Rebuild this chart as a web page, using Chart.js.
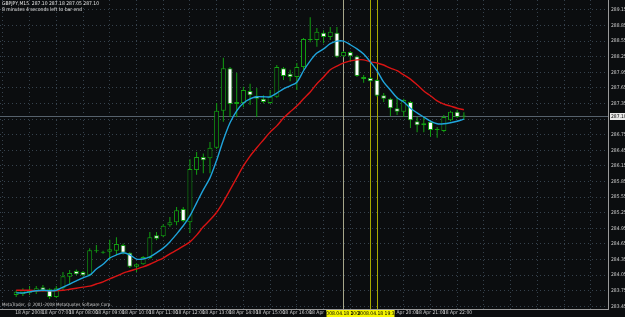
<!DOCTYPE html>
<html>
<head>
<meta charset="utf-8">
<script src="https://cdn.jsdelivr.net/npm/chart.js@4.4.1/dist/chart.umd.min.js"></script>
<style>
  html, body { margin: 0; padding: 0; background: #0b0d0f; }
  canvas { display: block; }
</style>
</head>
<body>
<canvas id="myChart" width="625" height="317"></canvas>
<script>
// GBPJPY, M15 - 18 Apr 2008, bars from 06:00 to 22:45
const hourLabels = ['18 Apr 2008', '18 Apr 07:00', '18 Apr 08:00', '18 Apr 09:00', '18 Apr 10:00',
  '18 Apr 11:00', '18 Apr 12:00', '18 Apr 13:00', '18 Apr 14:00', '18 Apr 15:00', '18 Apr 16:00',
  '18 Apr 17:00', '18 Apr 18:00', '18 Apr 19:00', '18 Apr 20:00', '18 Apr 21:00', '18 Apr 22:00'];

const opens = [283.67, 283.69, 283.75, 283.73, 283.82, 283.78, 283.63, 283.80, 284.02, 284.13,
  284.11, 284.05, 284.53, 284.50, 284.50, 284.52, 284.63, 284.48, 284.21, 284.26,
  284.38, 284.82, 284.80, 285.01, 285.07, 285.32, 285.07, 286.07, 286.32, 286.30,
  286.50, 287.21, 288.03, 287.38, 287.36, 287.59, 287.50, 287.44, 287.36, 287.48,
  288.03, 287.92, 287.86, 288.05, 288.57, 288.57, 288.71, 288.63, 288.71, 288.26,
  288.34, 288.26, 287.86, 287.84, 287.80, 287.51, 287.44, 287.26, 287.19, 287.38,
  287.01, 286.97, 287.00, 286.86, 286.82, 287.03, 287.19, 287.10];
const highs = [283.76, 283.80, 283.84, 283.84, 283.86, 283.80, 283.84, 284.11, 284.15, 284.16,
  284.13, 284.57, 284.63, 284.52, 284.73, 284.78, 284.66, 284.49, 284.28, 284.42,
  284.88, 284.88, 285.03, 285.17, 285.36, 285.36, 286.28, 286.42, 286.39, 286.61,
  287.36, 288.23, 288.05, 287.94, 287.67, 287.73, 287.65, 287.51, 287.61, 288.09,
  288.05, 288.00, 288.13, 288.61, 289.01, 288.80, 288.76, 288.82, 288.82, 288.36,
  288.36, 288.28, 287.90, 287.86, 287.82, 287.55, 287.46, 287.48, 287.44, 287.40,
  287.09, 287.09, 287.03, 286.90, 287.13, 287.21, 287.23, 287.18];
const lows = [283.63, 283.65, 283.67, 283.69, 283.73, 283.59, 283.61, 283.76, 283.86, 284.05,
  284.03, 284.03, 284.48, 284.46, 284.34, 284.44, 284.45, 284.19, 284.11, 284.25,
  284.36, 284.72, 284.78, 284.98, 285.01, 285.07, 284.86, 285.98, 286.01, 286.01,
  286.48, 287.00, 287.09, 287.09, 287.28, 287.32, 287.09, 287.35, 287.34, 287.46,
  287.80, 287.78, 287.61, 288.00, 288.53, 288.44, 288.51, 288.57, 288.23, 288.24,
  288.15, 287.86, 287.75, 287.76, 287.48, 287.38, 287.11, 287.13, 287.09, 286.88,
  286.80, 286.80, 286.71, 286.69, 286.80, 287.01, 287.07, 287.05];
const closes = [283.73, 283.76, 283.71, 283.80, 283.76, 283.63, 283.80, 284.03, 284.09, 284.07,
  284.05, 284.53, 284.51, 284.48, 284.55, 284.65, 284.48, 284.21, 284.26, 284.40,
  284.78, 284.75, 285.00, 285.07, 285.30, 285.09, 286.09, 286.32, 286.26, 286.50,
  287.21, 288.03, 287.34, 287.34, 287.61, 287.51, 287.44, 287.38, 287.48, 288.05,
  287.88, 287.86, 288.05, 288.59, 288.59, 288.73, 288.63, 288.73, 288.25, 288.34,
  288.26, 287.88, 287.82, 287.78, 287.50, 287.44, 287.26, 287.19, 287.42, 287.03,
  286.93, 286.93, 286.84, 286.84, 287.09, 287.19, 287.09, 287.10];

// moving averages (fast = blue, slow = red)
const maFast = [283.71, 283.71, 283.73, 283.75, 283.76, 283.75, 283.76, 283.82, 283.88, 283.94,
  284.00, 284.05, 284.17, 284.26, 284.38, 284.44, 284.48, 284.44, 284.36, 284.36,
  284.40, 284.48, 284.57, 284.69, 284.84, 285.00, 285.19, 285.44, 285.69, 285.92,
  286.26, 286.65, 286.98, 287.21, 287.36, 287.44, 287.48, 287.48, 287.48, 287.55,
  287.63, 287.69, 287.76, 287.98, 288.17, 288.32, 288.40, 288.50, 288.55, 288.55,
  288.48, 288.40, 288.30, 288.15, 287.98, 287.76, 287.61, 287.46, 287.38, 287.26,
  287.17, 287.09, 287.01, 286.96, 286.96, 286.98, 287.01, 287.05];
const maSlow = [283.76, 283.76, 283.76, 283.75, 283.75, 283.75, 283.75, 283.76, 283.78, 283.80,
  283.82, 283.84, 283.88, 283.92, 283.98, 284.03, 284.09, 284.13, 284.17, 284.21,
  284.26, 284.32, 284.38, 284.46, 284.53, 284.61, 284.69, 284.82, 284.98, 285.11,
  285.26, 285.46, 285.69, 285.92, 286.15, 286.34, 286.50, 286.65, 286.80, 286.92,
  287.07, 287.19, 287.30, 287.44, 287.57, 287.73, 287.86, 288.00, 288.07, 288.13,
  288.17, 288.19, 288.19, 288.15, 288.13, 288.09, 288.03, 287.98, 287.90, 287.82,
  287.71, 287.59, 287.50, 287.40, 287.34, 287.30, 287.26, 287.23];

const priceTicks = ['283.45', '283.75', '284.05', '284.35', '284.65', '284.95', '285.25', '285.55',
  '285.85', '286.15', '286.45', '286.75', '287.05', '287.35', '287.65', '287.95', '288.25',
  '288.55', '288.85', '289.15'];

// vertical lines (bar index) and their time labels
const markerBars = [49, 53, 54];
const markerLabels = ['2008.04.18 18:15', '2008.04.18 19:15', '2008.04.18 19:30'];
const markerColors = ['#a6a68a', '#a8a800', '#a8a800'];

const bid = 287.10;
const titleText = 'GBPJPY,M15  287.10 287.18 287.05 287.10';
const timerText = '8 minutes 4 seconds left to bar end';
const copyText = 'MetaTrader, \u00a9 2001-2008 MetaQuotes Software Corp.';

const FONT = "'Liberation Sans Narrow', 'DejaVu Sans Condensed', 'Liberation Sans', sans-serif";
const GREEN = '#12a012';

// build datasets
const wicks = lows.map((l, i) => ({ x: i, y: [l, highs[i]] }));
const bodies = opens.map((o, i) => ({ x: i, y: [o, closes[i]] }));
const bodyFill = opens.map((o, i) => closes[i] >= o ? '#0b0d0f' : '#ffffff');

const overlay = {
  id: 'overlay',
  beforeDatasetsDraw(chart) {
    const { ctx, chartArea: a, scales: { x, y } } = chart;
    ctx.save();
    ctx.lineWidth = 1;
    // bid line
    const yb = Math.floor(y.getPixelForValue(bid)) + 0.5;
    ctx.strokeStyle = '#56616c';
    ctx.beginPath();
    ctx.moveTo(a.left, yb);
    ctx.lineTo(a.right, yb);
    ctx.stroke();
    // vertical lines
    markerBars.forEach((b, k) => {
      const xp = Math.floor(x.getPixelForValue(b)) + 0.5;
      ctx.strokeStyle = markerColors[k];
      ctx.beginPath();
      ctx.moveTo(xp, a.top);
      ctx.lineTo(xp, a.bottom);
      ctx.stroke();
    });
    ctx.restore();
  },
  afterDraw(chart) {
    const { ctx, chartArea: a, scales: { x, y } } = chart;
    ctx.save();
    ctx.textBaseline = 'middle';
    ctx.textAlign = 'left';
    ctx.font = '5px ' + FONT;
    ctx.fillStyle = '#e6e6e6';
    ctx.fillText(titleText, 2, 4);
    ctx.fillText(timerText, 2, 10);
    ctx.font = '4.5px ' + FONT;
    ctx.fillStyle = '#c8c8c8';
    ctx.fillText(copyText, 2, a.bottom - 4);

    // bid label on the price scale
    const yb = Math.floor(y.getPixelForValue(bid)) + 0.5;
    ctx.fillStyle = '#e8e8e8';
    ctx.fillRect(a.right + 2, yb - 3.5, 15, 7);
    ctx.fillStyle = '#000000';
    ctx.font = '5px ' + FONT;
    ctx.fillText(bid.toFixed(2), a.right + 3, yb);

    // yellow time boxes for the vertical lines
    ctx.textAlign = 'center';
    markerBars.forEach((b, k) => {
      const xp = Math.floor(x.getPixelForValue(b)) + 0.5;
      ctx.fillStyle = '#f4f400';
      ctx.fillRect(xp - 17, a.bottom + 1, 34, 7);
      ctx.fillStyle = '#000000';
      ctx.fillText(markerLabels[k], xp, a.bottom + 4.5);
    });
    ctx.restore();
  }
};

const ctx = document.getElementById('myChart');

new Chart(ctx, {
  type: 'bar',
  data: {
    datasets: [
      {
        type: 'line',
        data: maFast.map((v, i) => ({ x: i, y: v })),
        borderColor: '#1fa4dc',
        borderWidth: 1.4,
        pointRadius: 0,
        tension: 0.3,
        order: 0
      },
      {
        type: 'line',
        data: maSlow.map((v, i) => ({ x: i, y: v })),
        borderColor: '#d81414',
        borderWidth: 1.4,
        pointRadius: 0,
        tension: 0.3,
        order: 1
      },
      {
        data: bodies,
        backgroundColor: bodyFill,
        borderColor: GREEN,
        borderWidth: 1,
        borderSkipped: false,
        barThickness: 5,
        minBarLength: 1,
        inflateAmount: 0,
        grouped: false,
        order: 2
      },
      {
        data: wicks,
        backgroundColor: GREEN,
        borderWidth: 0,
        barThickness: 1,
        inflateAmount: 0,
        grouped: false,
        order: 3
      }
    ]
  },
  options: {
    responsive: false,
    animation: false,
    devicePixelRatio: 1,
    layout: { padding: 0 },
    plugins: { legend: { display: false }, tooltip: { enabled: false } },
    scales: {
      x: {
        type: 'linear',
        min: -2.5 / 7,
        max: 86.5,
        afterBuildTicks(scale) {
          const t = [];
          for (let v = 0; v <= 84; v += 4) t.push({ value: v });
          scale.ticks = t;
        },
        afterFit(scale) {
          scale.height = 8;
          scale.paddingLeft = 0;
          scale.paddingRight = 0;
        },
        grid: { color: '#36424d', drawTicks: false, borderDash: [1, 3] },
        border: { display: true, color: '#9a9a9a', width: 1, dash: [1, 3] },
        ticks: {
          autoSkip: false,
          maxRotation: 0,
          align: 'start',
          padding: 1,
          labelOffset: -1,
          color: '#cfcfcf',
          font: { family: FONT, size: 5 },
          callback: (v) => hourLabels[v / 4] || ''
        }
      },
      y: {
        position: 'right',
        min: 283.40,
        max: 289.34,
        afterBuildTicks(scale) {
          scale.ticks = priceTicks.map(p => ({ value: parseFloat(p) }));
        },
        afterFit(scale) {
          scale.width = 17;
          scale.paddingTop = 0;
          scale.paddingBottom = 0;
        },
        grid: { color: '#36424d', drawTicks: false, borderDash: [1, 3] },
        border: { display: true, color: '#9a9a9a', width: 1, dash: [1, 3] },
        ticks: {
          padding: 3,
          color: '#cfcfcf',
          font: { family: FONT, size: 5 },
          callback: (v, i) => priceTicks[i]
        }
      }
    }
  },
  plugins: [overlay]
});
</script>
</body>
</html>
